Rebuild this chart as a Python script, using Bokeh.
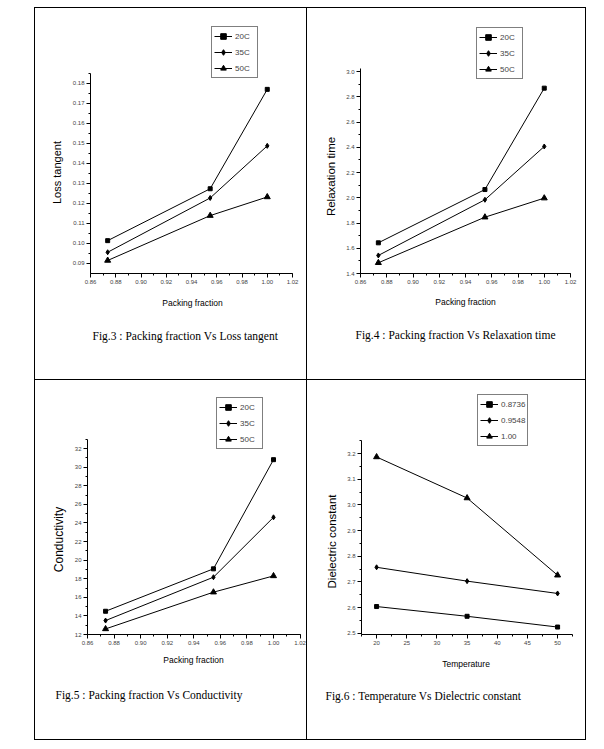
from bokeh.plotting import figure
from bokeh.layouts import column, row
from bokeh.models import (Range1d, SingleIntervalTicker, PrintfTickFormatter, Legend,
                          LegendItem, Title, Spacer)
from bokeh.embed import file_html
from bokeh.resources import INLINE

# ---------------- data ----------------
packing_fraction = [0.8736, 0.9548, 1.00]
series_temps = ["20C", "35C", "50C"]

loss_20 = [0.1014, 0.1273, 0.1769]
loss_35 = [0.0956, 0.1227, 0.1487]
loss_50 = [0.0915, 0.1139, 0.1232]

relax_20 = [1.643, 2.065, 2.868]
relax_35 = [1.543, 1.984, 2.406]
relax_50 = [1.485, 1.846, 1.997]

cond_20 = [14.5, 19.06, 30.8]
cond_35 = [13.5, 18.16, 24.6]
cond_50 = [12.6, 16.55, 18.3]

temperature = [20, 35, 50]
series_pf = ["0.8736", "0.9548", "1.00"]
diel_08736 = [2.604, 2.566, 2.524]
diel_09548 = [2.757, 2.703, 2.655]
diel_100 = [3.187, 3.027, 2.726]

MARKERS = ["square", "diamond", "triangle"]
MSIZES = [4, 5, 6]
SANS = "Liberation Sans"
SERIF = "Liberation Serif"

# approximate Liberation Sans advance widths (per 1000 em), used to centre labels
_W = {" ": 278, "C": 722, "D": 722, "L": 556, "R": 722, "T": 611, "P": 667,
      "a": 556, "c": 500, "d": 556, "e": 556, "f": 278, "g": 556, "i": 222,
      "k": 500, "l": 222, "m": 833, "n": 556, "o": 556, "p": 556, "r": 333,
      "s": 500, "t": 278, "u": 556, "v": 500, "x": 500, "y": 500}


def text_len(s, size):
    return sum(_W.get(ch, 556) for ch in s) * size / 1000.0


def make_panel(cfg, xs, ys_list, names):
    ox, oy, w, h = cfg["fig"]
    x1, px1, x2, px2 = cfg["xcal"]
    y1, py1, y2, py2 = cfg["ycal"]
    sx = (x2 - x1) / (px2 - px1)          # data per pixel
    sy = (y2 - y1) / (py1 - py2)
    xb0, xb1 = cfg["xb"]
    yb0, yb1 = cfg["yb"]
    left_px = px1 + (xb0 - x1) / sx
    bottom_px = py1 - (yb0 - y1) / sy
    mbl = int(round(left_px - ox))
    mbb = int(round(oy + h - bottom_px))
    xend = xb0 + (w - mbl) * sx
    yend = yb0 + (h - mbb) * sy

    p = figure(width=w, height=h, output_backend="svg", toolbar_location=None,
               x_range=Range1d(xb0, xend), y_range=Range1d(yb0, yend),
               min_border_left=mbl, min_border_right=0,
               min_border_top=0, min_border_bottom=mbb)
    p.grid.visible = False
    p.outline_line_color = None
    p.background_fill_color = "white"
    p.border_fill_color = "white"

    items = []
    for ys, name, mk, ms in zip(ys_list, names, MARKERS, MSIZES):
        lr = p.line(xs, ys, line_color="black", line_width=1)
        sr = p.scatter(xs, ys, marker=mk, size=ms, fill_color="black", line_color="black")
        items.append(LegendItem(label=name, renderers=[lr, sr]))

    xa, ya = p.xaxis[0], p.yaxis[0]
    xa.bounds = (xb0, xb1)
    ya.bounds = (yb0, yb1)
    xa.ticker = SingleIntervalTicker(interval=cfg["xint"], num_minor_ticks=2)
    ya.ticker = SingleIntervalTicker(interval=cfg["yint"], num_minor_ticks=2)
    xa.formatter = PrintfTickFormatter(format=cfg["xfmt"])
    ya.formatter = PrintfTickFormatter(format=cfg["yfmt"])
    for ax in (xa, ya):
        ax.axis_line_color = "black"
        ax.major_tick_out = 4
        ax.major_tick_in = 0
        ax.minor_tick_out = 2
        ax.minor_tick_in = 0
        ax.major_label_text_font = SANS
        ax.major_label_text_font_size = "6px"
        ax.major_label_text_color = "#444444"
        ax.major_label_standoff = 2

    frame_left = ox + mbl
    frame_bottom = oy + h - mbb

    # y-axis label: left-side title, text starts (bottom end) so that it is centred
    ysize = cfg["ysize"]
    ylen = text_len(cfg["ylabel"], ysize)
    yoff = frame_bottom - (cfg["ylab_cy"] + ylen / 2)
    p.add_layout(Title(text=cfg["ylabel"], align="left", offset=yoff,
                       standoff=cfg["ystand"], text_font=SANS, text_font_size=f"{ysize}px",
                       text_font_style="normal", text_color="black"), "left")
    # x-axis label: below title, left aligned so that it is centred
    xlen = text_len(cfg["xlabel"], 8.5)
    xoff = cfg["xlab_cx"] - xlen / 2 - frame_left
    p.add_layout(Title(text=cfg["xlabel"], align="left", offset=xoff,
                       standoff=cfg["xstand"], text_font=SANS, text_font_size="8.5px",
                       text_font_style="normal", text_color="black"), "below")

    legend = Legend(items=items, location=cfg["leg"], border_line_color="black",
                    border_line_width=1, padding=2, spacing=2, margin=0,
                    glyph_width=18, glyph_height=14, label_height=14, label_standoff=3,
                    label_text_font=SANS, label_text_font_size="8px",
                    background_fill_color="white", background_fill_alpha=1)
    p.add_layout(legend)

    cap = Title(text=cfg["caption"], align="left", offset=cfg["cap_x"] - frame_left,
                standoff=cfg["capstand"], text_font=SERIF, text_font_size="11.5px",
                text_font_style="normal", text_color="black")
    p.add_layout(cap, "below")
    return p


cfg1 = dict(fig=(35, 8, 271, 371), xcal=(0.86, 90, 1.02, 292), ycal=(0.09, 264, 0.18, 83),
            xb=(0.86, 1.02), yb=(0.085, 0.185),
            xint=0.02, yint=0.01, xfmt="%.2f", yfmt="%.2f",
            xlabel="Packing fraction", ylabel="Loss tangent", ysize=11,
            xstand=18, ystand=13, xlab_cx=192, ylab_cy=173,
            leg=(121, 195), caption="Fig.3 : Packing   fraction Vs Loss tangent",
            cap_x=92, capstand=22)
cfg2 = dict(fig=(307, 8, 278, 371), xcal=(0.86, 360, 1.02, 570), ycal=(1.4, 273, 3.0, 71),
            xb=(0.86, 1.02), yb=(1.4, 3.024),
            xint=0.02, yint=0.2, xfmt="%.2f", yfmt="%.1f",
            xlabel="Packing fraction", ylabel="Relaxation time", ysize=11.5,
            xstand=17, ystand=13, xlab_cx=465, ylab_cy=176,
            leg=(116, 194), caption="Fig.4 : Packing fraction Vs Relaxation time",
            cap_x=355, capstand=22)
cfg3 = dict(fig=(35, 380, 271, 359), xcal=(0.86, 87, 1.00, 273), ycal=(12, 634, 32, 448),
            xb=(0.86, 1.02), yb=(12, 33),
            xint=0.02, yint=2, xfmt="%.2f", yfmt="%d",
            xlabel="Packing fraction", ylabel="Conductivity", ysize=12,
            xstand=10, ystand=11, xlab_cx=193, ylab_cy=539,
            leg=(129, 185), caption="Fig.5 : Packing fraction Vs Conductivity",
            cap_x=55, capstand=34)
cfg4 = dict(fig=(307, 380, 278, 359), xcal=(20, 376, 50, 557), ycal=(2.5, 636, 3.2, 454.3),
            xb=(17.5, 52.5), yb=(2.495, 3.25),
            xint=5, yint=0.1, xfmt="%d", yfmt="%.1f",
            xlabel="Temperature", ylabel="Dielectric constant", ysize=11.5,
            xstand=18, ystand=13, xlab_cx=466, ylab_cy=544,
            leg=(116, 188), caption="Fig.6 : Temperature Vs Dielectric constant",
            cap_x=325, capstand=20)

p1 = make_panel(cfg1, packing_fraction, [loss_20, loss_35, loss_50], series_temps)
p2 = make_panel(cfg2, packing_fraction, [relax_20, relax_35, relax_50], series_temps)
p3 = make_panel(cfg3, packing_fraction, [cond_20, cond_35, cond_50], series_temps)
p4 = make_panel(cfg4, temperature, [diel_08736, diel_09548, diel_100], series_pf)


def hline(w):
    return Spacer(width=w, height=1, styles={"background-color": "black"})


def vline(h):
    return Spacer(width=1, height=h, styles={"background-color": "black"})


layout = column(
    Spacer(width=10, height=7),
    row(Spacer(width=34, height=1), hline(552), spacing=0),
    row(Spacer(width=34, height=371), vline(371), p1, vline(371), p2, vline(371), spacing=0),
    row(Spacer(width=34, height=1), hline(552), spacing=0),
    row(Spacer(width=34, height=359), vline(359), p3, vline(359), p4, vline(359), spacing=0),
    row(Spacer(width=34, height=1), hline(552), spacing=0),
    spacing=0,
)

with open("out.html", "w") as f:
    f.write(file_html(layout, INLINE))
